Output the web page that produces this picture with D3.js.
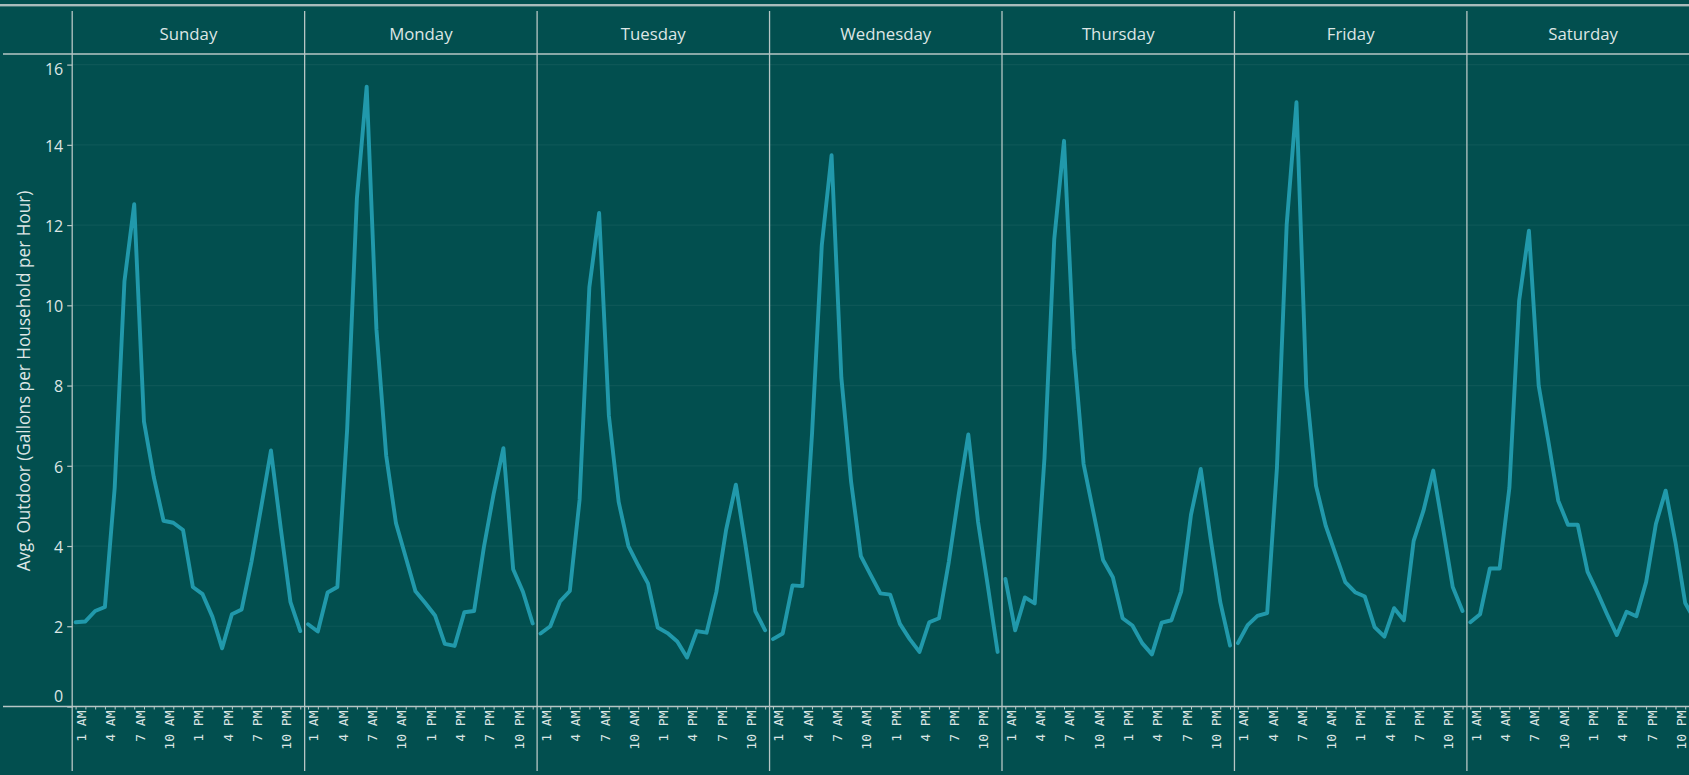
<!DOCTYPE html>
<html><head><meta charset="utf-8">
<script src="https://cdn.jsdelivr.net/npm/d3@7"></script>
<style>
html,body{margin:0;padding:0;background:#024f4f;overflow:hidden}
svg{display:block}
</style></head><body>
<svg id="c" width="1689" height="775"></svg>
<script>
// ---------- data ----------
const days = ["Sunday","Monday","Tuesday","Wednesday","Thursday","Friday","Saturday"];
const hours = d3.range(24); // 0 = 12 AM ... 23 = 11 PM
const tickHours = [1,4,7,10,13,16,19,22];
const tickLabels = ["1 AM","4 AM","7 AM","10 AM","1 PM","4 PM","7 PM","10 PM"];
const yTicks = [0,2,4,6,8,10,12,14,16];
const yTitle = "Avg. Outdoor (Gallons per Household per Hour)";

const sunday    = [2.10,2.12,2.38,2.48,5.45,10.60,12.52,7.10,5.72,4.63,4.58,4.40,2.98,2.80,2.24,1.45,2.30,2.42,3.60,4.97,6.38,4.45,2.60,1.88];
const monday    = [2.05,1.87,2.84,2.98,6.90,12.67,15.45,9.40,6.25,4.57,3.72,2.87,2.58,2.27,1.56,1.51,2.35,2.38,3.97,5.30,6.44,3.42,2.86,2.07];
const tuesday   = [1.82,2.00,2.62,2.88,5.15,10.45,12.30,7.25,5.10,4.00,3.52,3.07,1.97,1.83,1.62,1.22,1.88,1.84,2.85,4.40,5.53,4.00,2.37,1.90];
const wednesday = [1.68,1.82,3.02,3.00,6.80,11.50,13.74,8.20,5.60,3.75,3.28,2.82,2.79,2.06,1.68,1.36,2.10,2.20,3.60,5.25,6.78,4.60,3.00,1.36];
const thursday  = [3.18,1.90,2.72,2.57,6.20,11.65,14.10,8.90,6.05,4.85,3.65,3.22,2.20,2.02,1.58,1.30,2.09,2.15,2.87,4.78,5.92,4.20,2.60,1.52];
const friday    = [1.58,2.03,2.26,2.33,5.95,12.02,15.06,7.98,5.50,4.50,3.80,3.10,2.85,2.74,1.98,1.74,2.45,2.15,4.13,4.88,5.88,4.45,2.98,2.38];
const saturday  = [2.10,2.30,3.44,3.44,5.45,10.12,11.86,8.00,6.60,5.13,4.53,4.53,3.36,2.85,2.30,1.78,2.36,2.25,3.10,4.55,5.38,4.10,2.58,2.15];
const series = [sunday,monday,tuesday,wednesday,thursday,friday,saturday];

// ---------- style ----------
const W = 1689, H = 775;
const BG = "#024f4f", RULE = "#b7c6c5", TXT = "#dde6e5", LINE = "#2199ab";
const svg = d3.select("#c");
svg.append("rect").attr("width",W).attr("height",H).attr("fill",BG);

const paneLeft = 72.2, paneW = 232.45;
const fx = d3.scaleBand().domain(days).range([paneLeft, paneLeft + paneW*days.length]).padding(0);
const x = d3.scaleLinear().domain([-0.35, 23.45]).range([0, paneW]);
const y = d3.scaleLinear().domain([0,16]).range([706.5, 64.6]);

// gridlines
svg.append("g").selectAll("line").data(yTicks.filter(d=>d>0)).join("line")
  .attr("x1",paneLeft).attr("x2",W).attr("y1",d=>y(d)).attr("y2",d=>y(d))
  .attr("stroke","#ffffff").attr("stroke-opacity",0.05).attr("stroke-width",1.2);

// top rule, header rule, axis rule
svg.append("rect").attr("x",0).attr("y",4).attr("width",W).attr("height",2.4).attr("fill","#a9bbbb");
svg.append("line").attr("x1",3).attr("x2",W).attr("y1",54).attr("y2",54).attr("stroke",RULE).attr("stroke-width",1.6);
svg.append("line").attr("x1",3).attr("x2",W).attr("y1",y(0)).attr("y2",y(0)).attr("stroke",RULE).attr("stroke-width",1.4);

// panel dividers
svg.append("g").selectAll("line").data(days).join("line")
  .attr("x1",d=>fx(d)).attr("x2",d=>fx(d)).attr("y1",11).attr("y2",771)
  .attr("stroke",RULE).attr("stroke-width",1.3);

// headers
svg.append("g").selectAll("text").data(days).join("text")
  .attr("x",d=>fx(d)+paneW/2).attr("y",34).attr("dy","0.35em")
  .attr("text-anchor","middle").attr("fill",TXT)
  .style("font-family","'Open Sans', 'Noto Sans', sans-serif").style("font-size","16.8px")
  .text(d=>d);

// y axis
const yAxis = svg.append("g").attr("transform",`translate(${paneLeft},0)`)
  .call(d3.axisLeft(y).tickValues(yTicks).tickSize(5).tickPadding(4));
yAxis.select(".domain").remove();
yAxis.selectAll(".tick line").attr("stroke",RULE).attr("stroke-width",1.2);
yAxis.selectAll(".tick text").attr("fill",TXT)
  .style("font-family","'Open Sans', 'Noto Sans', sans-serif").style("font-size","16px")
  .attr("dy",d=> d===0 ? "-0.3em" : d===16 ? "0.62em" : "0.4em");

// y title
const yt = svg.append("text").attr("transform","translate(24,381) rotate(-90)")
  .attr("text-anchor","middle").attr("dy","0.35em").attr("fill",TXT)
  .style("font-family","'Open Sans', 'Noto Sans', sans-serif").style("font-size","15px")
  .text(yTitle);
const tl = yt.node().getComputedTextLength();
yt.style("font-size", (15*381/tl).toFixed(2)+"px");

// panels
const line = d3.line().x((d,i)=>x(hours[i])).y(d=>y(d));
days.forEach((day,k)=>{
  const g = svg.append("g").attr("transform",`translate(${fx(day)},0)`);
  // hourly minor ticks
  const ax = g.append("g").attr("transform",`translate(0,${y(0)})`)
    .call(d3.axisBottom(x).tickValues(hours).tickSize(3).tickFormat(""));
  ax.select(".domain").remove();
  ax.selectAll(".tick line").attr("stroke",RULE).attr("stroke-width",1);
  // rotated labels
  g.append("g").selectAll("text").data(tickHours).join("text")
    .attr("transform",(d)=>`translate(${x(d)},${y(0)+4}) rotate(-90)`)
    .attr("text-anchor","end").attr("dy","0.05em").attr("fill",TXT)
    .style("font-family","'DejaVu Sans Mono', monospace").style("font-size","13px")
    .text((d,i)=>tickLabels[i]);
  // series line
  g.append("path").datum(series[k]).attr("d",line)
    .attr("fill","none").attr("stroke",LINE).attr("stroke-width",3.9)
    .attr("stroke-linejoin","round").attr("stroke-linecap","round");
});
</script>
</body></html>
